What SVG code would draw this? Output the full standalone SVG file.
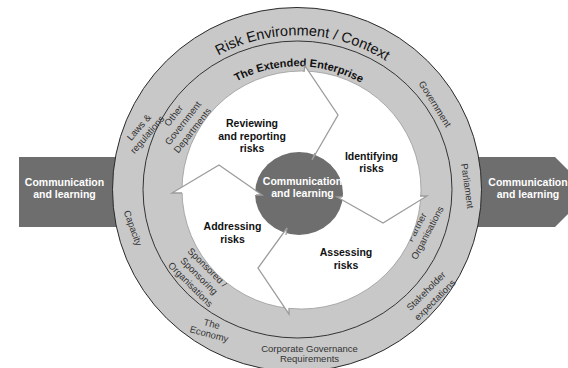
<svg xmlns="http://www.w3.org/2000/svg" width="568" height="368" viewBox="0 0 568 368">
  <style>
    .ring { fill: #c8c8c8; stroke: #2a2a2a; stroke-width: 1; }
    .divider { fill: none; stroke: #222; stroke-width: 0.9; }
    .core { fill: #ffffff; stroke: #9a9a9a; stroke-width: 0.8; }
    .hub { fill: #6e6e6e; }
    .band { fill: #6e6e6e; }
    .inv { font-family: "Liberation Sans", Arial, sans-serif; font-size: 10.5px; font-weight: bold; fill: #ffffff; text-anchor: middle; }
    .step { font-family: "Liberation Sans", Arial, sans-serif; font-size: 10.5px; font-weight: bold; fill: #111; text-anchor: middle; }
    .small { font-family: "Liberation Sans", Arial, sans-serif; font-size: 9.5px; fill: #333; text-anchor: middle; }
    .title { font-family: "Liberation Sans", Arial, sans-serif; font-size: 14.5px; fill: #111; text-anchor: middle; }
    .subtitle { font-family: "Liberation Sans", Arial, sans-serif; font-size: 11px; font-weight: bold; fill: #111; text-anchor: middle; }
    .chevron { fill: #ffffff; stroke: none; }
    .chevron-line { fill: none; stroke: #9c9c9c; stroke-width: 1.3; stroke-linejoin: miter; }
  </style>
  <defs>
    <path id="arc-context" d="M137.1,184.09 A160.5,155 0 0 1 457.9,194.91"/>
    <path id="arc-enterprise" d="M170.51,187.99 A127,123.5 0 0 1 424.49,191.01"/>
  </defs>

  <rect width="568" height="368" fill="#ffffff"/>

  <!-- side bands: communication and learning flowing in and out -->
  <g id="comm-left">
    <rect class="band" x="19" y="157" width="110" height="70"/>
    <text class="inv" x="64.5" y="186">Communication</text>
    <text class="inv" x="64.5" y="198">and learning</text>
  </g>
  <g id="comm-right">
    <polygon class="band" points="460,157 555,157 590,192 555,227 460,227"/>
    <text class="inv" x="528" y="186">Communication</text>
    <text class="inv" x="528" y="198">and learning</text>
  </g>

  <!-- outer ring: risk environment / context -->
  <g id="context-ring">
    <ellipse class="ring" cx="297" cy="189.5" rx="184.5" ry="182"/>
    <text class="title"><textPath href="#arc-context" startOffset="50%">Risk Environment / Context</textPath></text>
    <g class="small" transform="translate(143,131) rotate(-49)">
      <text y="-2.2">Laws &amp;</text>
      <text y="8.8">regulations</text>
    </g>
    <text class="small" transform="translate(133,228) rotate(70)" y="3.3">Capacity</text>
    <g class="small" transform="translate(210.5,329) rotate(15)">
      <text y="-2">The</text>
      <text y="8.5">Economy</text>
    </g>
    <text class="small" x="309.5" y="352">Corporate Governance</text>
    <text class="small" x="309.5" y="362">Requirements</text>
    <g class="small" transform="translate(430.5,295.5) rotate(-45)">
      <text y="-3">Stakeholder</text>
      <text y="9.5">expectations</text>
    </g>
    <text class="small" transform="translate(467.5,186) rotate(82)" y="3.3">Parliament</text>
    <text class="small" transform="translate(435,104) rotate(58)" y="3.3">Government</text>
  </g>

  <!-- middle ring: the extended enterprise -->
  <g id="enterprise-ring">
    <ellipse class="divider" cx="297.5" cy="189.5" rx="154.5" ry="148.5"/>
    <text class="subtitle"><textPath href="#arc-enterprise" startOffset="50%">The Extended Enterprise</textPath></text>
    <g class="small" transform="translate(183,123) rotate(-52)">
      <text y="-8.7">Other</text>
      <text y="3.3">Government</text>
      <text y="15.3">Departments</text>
    </g>
    <g class="small" transform="translate(199,276) rotate(45)">
      <text y="-8.7">Sponsored /</text>
      <text y="3.3">Sponsoring</text>
      <text y="15.3">Organisations</text>
    </g>
    <g class="small" transform="translate(422,230) rotate(-62)">
      <text y="-2.7">Partner</text>
      <text y="9.3">Organisations</text>
    </g>
  </g>

  <!-- white process disc -->
  <g id="process-disc">
    <ellipse class="core" cx="301.5" cy="190" rx="119.5" ry="119"/>
  </g>

  <!-- central hub -->
  <g id="hub">
    <ellipse class="hub" cx="299" cy="193.5" rx="44" ry="41.5"/>
  </g>

  <!-- arrow heads between the four process steps (clockwise cycle) -->
  <g id="connectors">
    <polygon class="chevron" points="304,72 305,66 338,115 312,160 315,153"/>
    <polyline class="chevron-line" points="304,72 305,66 338,115 312,160 315,153"/>
    <polygon class="chevron" points="420,196 427,196 383,223 337,197 342,197"/>
    <polyline class="chevron-line" points="420,196 427,196 383,223 337,197 342,197"/>
    <polygon class="chevron" points="289,308 289,314 258,268 287,228 286,235"/>
    <polyline class="chevron-line" points="289,308 289,314 258,268 287,228 286,235"/>
    <polygon class="chevron" points="182,193 172,193 219,165 262,195 256,195"/>
    <polyline class="chevron-line" points="182,193 172,193 219,165 262,195 256,195"/>
  </g>

  <g id="hub-label">
    <text class="inv" x="302.5" y="185">Communication</text>
    <text class="inv" x="302.5" y="197">and learning</text>
  </g>

  <!-- process steps -->
  <g id="step-reviewing">
    <text class="step" x="252" y="127">Reviewing</text>
    <text class="step" x="252" y="139.5">and reporting</text>
    <text class="step" x="252" y="152">risks</text>
  </g>
  <g id="step-identifying">
    <text class="step" x="371.5" y="159.5">Identifying</text>
    <text class="step" x="371.5" y="172">risks</text>
  </g>
  <g id="step-assessing">
    <text class="step" x="346" y="256">Assessing</text>
    <text class="step" x="346" y="268.5">risks</text>
  </g>
  <g id="step-addressing">
    <text class="step" x="232.5" y="230">Addressing</text>
    <text class="step" x="232.5" y="242.5">risks</text>
  </g>
</svg>
